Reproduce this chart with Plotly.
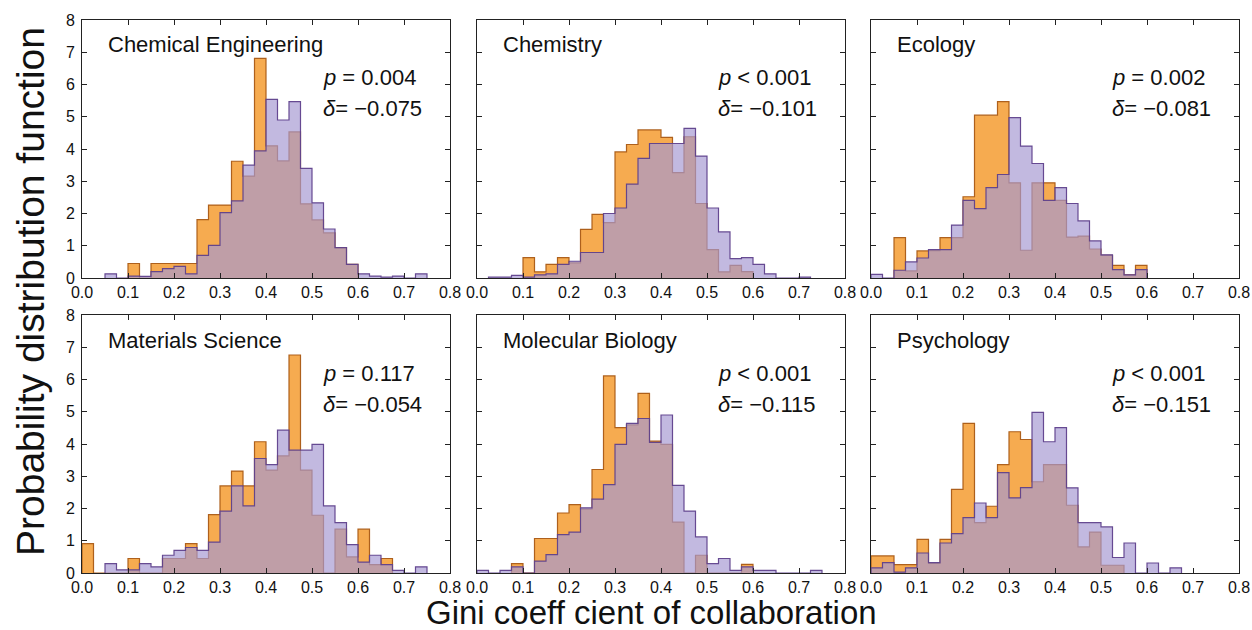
import numpy as np
import plotly.graph_objects as go

# Histogram bins: 32 bins of width 0.025 over [0, 0.8]
bin_edges = np.linspace(0.0, 0.8, 33)

fields = ["Chemical Engineering", "Chemistry", "Ecology",
          "Materials Science", "Molecular Biology", "Psychology"]
p_text = ["<i>p</i> = 0.004", "<i>p</i> < 0.001", "<i>p</i> = 0.002",
          "<i>p</i> = 0.117", "<i>p</i> < 0.001", "<i>p</i> < 0.001"]
delta_text = ["<i>δ</i>= −0.075", "<i>δ</i>= −0.101", "<i>δ</i>= −0.081",
              "<i>δ</i>= −0.054", "<i>δ</i>= −0.115", "<i>δ</i>= −0.151"]

# Probability density per bin, group A (orange)
chem_eng_a = [0, 0, 0, 0, 0.45, 0, 0.45, 0.45, 0.45, 0.45, 1.81, 2.26, 2.26, 3.62, 3.16, 6.81,
              4.10, 3.63, 4.53, 2.30, 1.80, 1.40, 0.94, 0.42, 0, 0, 0, 0, 0, 0, 0, 0]
chemistry_a = [0, 0, 0, 0, 0.63, 0.19, 0.42, 0.63, 0.47, 1.51, 1.97, 1.72, 3.91, 4.14, 4.59, 4.59,
               4.36, 3.27, 4.38, 2.31, 0.88, 0.19, 0.39, 0.20, 0, 0, 0, 0, 0, 0, 0, 0]
ecology_a = [0, 0, 1.25, 0.22, 0.84, 0.85, 1.25, 1.25, 2.52, 5.05, 5.05, 5.47, 2.95, 0.86, 2.95, 2.95,
             2.41, 1.27, 1.30, 0.90, 0.70, 0.39, 0.10, 0.39, 0, 0, 0, 0, 0, 0, 0, 0]
materials_a = [0.91, 0, 0, 0, 0.45, 0, 0, 0.45, 0.45, 0.91, 0.45, 1.81, 2.70, 3.16, 2.70, 4.07,
               3.19, 3.63, 6.76, 3.19, 1.79, 0, 1.36, 0.50, 1.36, 0.26, 0.45, 0, 0, 0, 0, 0]
mol_bio_a = [0, 0, 0, 0.29, 0, 1.07, 1.07, 1.86, 2.12, 1.98, 3.21, 6.11, 4.51, 4.59, 5.57, 4.09,
             3.99, 1.58, 0, 0.55, 0, 0, 0, 0.27, 0, 0, 0, 0, 0, 0, 0, 0]
psychology_a = [0.53, 0.53, 0.26, 0.26, 1.04, 0.30, 1.04, 2.59, 4.64, 1.56, 2.07, 3.36, 4.38, 4.14, 2.83, 3.36,
                3.36, 2.10, 0.81, 1.27, 0.24, 0.24, 0, 0, 0, 0, 0, 0, 0, 0, 0, 0]

# Probability density per bin, group B (purple)
chem_eng_b = [0, 0, 0.13, 0, 0.06, 0.05, 0.20, 0.29, 0.36, 0.13, 0.70, 1.01, 2.03, 2.39, 3.50, 3.94,
              5.54, 4.90, 5.47, 3.40, 2.33, 1.52, 0.94, 0.42, 0.13, 0.06, 0.03, 0.06, 0, 0.13, 0, 0]
chemistry_b = [0, 0.03, 0.03, 0.08, 0.03, 0.10, 0.13, 0.42, 0.52, 0.79, 0.79, 2.00, 2.17, 2.91, 3.71, 4.17,
               4.17, 4.17, 4.64, 3.78, 2.17, 1.43, 0.60, 0.63, 0.42, 0.13, 0, 0, 0.03, 0, 0, 0]
ecology_b = [0.11, 0, 0.24, 0.50, 0.62, 0.88, 0.88, 1.64, 2.41, 2.15, 2.80, 3.21, 4.97, 4.09, 3.55, 2.41,
             2.80, 2.31, 1.77, 1.15, 0.72, 0.26, 0.10, 0.26, 0, 0, 0, 0, 0, 0, 0, 0]
materials_b = [0, 0, 0.29, 0.10, 0.10, 0.29, 0.19, 0.55, 0.70, 0.79, 0.70, 0.96, 1.92, 2.70, 2.08, 3.55,
               3.36, 4.43, 3.81, 3.81, 3.99, 2.08, 1.56, 0.88, 0.34, 0.55, 0.26, 0.08, 0, 0.19, 0, 0]
mol_bio_b = [0.08, 0, 0.08, 0.19, 0, 0.37, 0.57, 1.19, 1.27, 2.02, 2.29, 2.74, 3.99, 4.64, 4.79, 4.05,
             4.90, 2.72, 1.92, 1.12, 0.29, 0.45, 0.08, 0.19, 0.08, 0.08, 0, 0, 0, 0.08, 0, 0]
psychology_b = [0.16, 0.32, 0.03, 0.16, 0.62, 0.32, 0.93, 1.22, 1.72, 2.17, 1.72, 3.11, 2.33, 2.65, 4.98, 4.07,
                4.51, 2.64, 1.56, 1.56, 1.43, 0.48, 0.93, 0, 0.31, 0, 0.16, 0, 0, 0, 0, 0]

group_a = [chem_eng_a, chemistry_a, ecology_a, materials_a, mol_bio_a, psychology_a]
group_b = [chem_eng_b, chemistry_b, ecology_b, materials_b, mol_bio_b, psychology_b]

x_ticks = [0.0, 0.1, 0.2, 0.3, 0.4, 0.5, 0.6, 0.7, 0.8]
x_ticktext = ["0.0", "0.1", "0.2", "0.3", "0.4", "0.5", "0.6", "0.7", "0.8"]
y_ticks = [0, 1, 2, 3, 4, 5, 6, 7, 8]

FONT = "Liberation Sans, Arial, Helvetica, sans-serif"
W, H = 1252, 630

# panel plot areas in pixels
col_px = [(82, 450), (477, 845), (871, 1239)]
row_px = [(20, 278), (315, 573)]

style_a = dict(fill="rgba(243,138,12,0.72)", line="rgba(170,90,20,0.95)")
style_b = dict(fill="rgba(165,152,210,0.68)", line="rgba(95,65,140,0.95)")


def step_outline(values):
    """Closed step outline (stepfilled histogram) spanning the non-empty bins."""
    vals = np.asarray(values, dtype=float)
    nz = np.nonzero(vals)[0]
    lo, hi = nz[0], nz[-1]
    edges = bin_edges[lo:hi + 2]
    v = vals[lo:hi + 1]
    xs = np.concatenate([[edges[0]], edges, [edges[-1]]])
    ys = np.concatenate([[0.0], v, [v[-1], 0.0]])
    return xs, ys


fig = go.Figure()
layout_axes = {}
annotations = []

for k in range(6):
    r, c = divmod(k, 3)
    n = k + 1
    xa = "x" if n == 1 else f"x{n}"
    ya = "y" if n == 1 else f"y{n}"
    xkey = "xaxis" if n == 1 else f"xaxis{n}"
    ykey = "yaxis" if n == 1 else f"yaxis{n}"

    for vals, st in ((group_a[k], style_a), (group_b[k], style_b)):
        xs, ys = step_outline(vals)
        fig.add_trace(go.Scatter(
            x=xs, y=ys, mode="lines", line=dict(shape="hv", color=st["line"], width=1.2),
            fill="tozeroy", fillcolor=st["fill"], xaxis=xa, yaxis=ya,
            showlegend=False, hoverinfo="skip"))

    x0, x1 = col_px[c]
    y0, y1 = row_px[r]
    common = dict(showline=True, mirror="ticks", linecolor="#222", linewidth=1,
                  ticks="inside", ticklen=5, tickwidth=1, tickcolor="#222",
                  showgrid=False, zeroline=False, automargin=False,
                  tickfont=dict(family=FONT, size=16, color="#111"))
    layout_axes[xkey] = dict(common, domain=[x0 / W, x1 / W], range=[0, 0.8],
                             tickvals=x_ticks, ticktext=x_ticktext, anchor=ya)
    layout_axes[ykey] = dict(common, domain=[1 - y1 / H, 1 - y0 / H], range=[0, 8],
                             tickvals=y_ticks, showticklabels=(c == 0), anchor=xa,
                             ticklabelstandoff=3)

    dx = f"{xa} domain"
    dy = f"{ya} domain"
    annotations.append(dict(text=fields[k], xref=dx, yref=dy, x=24 / 368, y=1 - 25 / 258,
                            xanchor="left", yanchor="middle", showarrow=False,
                            font=dict(family=FONT, size=22, color="#111")))
    annotations.append(dict(text=p_text[k], xref=dx, yref=dy, x=239 / 368, y=1 - 58 / 258,
                            xanchor="left", yanchor="middle", showarrow=False,
                            font=dict(family=FONT, size=22, color="#111")))
    annotations.append(dict(text=delta_text[k], xref=dx, yref=dy, x=239 / 368, y=1 - 89 / 258,
                            xanchor="left", yanchor="middle", showarrow=False,
                            font=dict(family=FONT, size=22, color="#111")))

annotations.append(dict(text="Probability distribution function", xref="paper", yref="paper",
                        x=30 / W, y=1 - 292 / H, textangle=-90, xanchor="center", yanchor="middle",
                        showarrow=False, font=dict(family=FONT, size=39, color="#111")))
annotations.append(dict(text="Gini coeff cient of collaboration", xref="paper", yref="paper",
                        x=651 / W, y=1 - 612 / H, xanchor="center", yanchor="middle",
                        showarrow=False, borderpad=0, font=dict(family=FONT, size=33, color="#111")))

fig.update_layout(width=W, height=H, margin=dict(l=0, r=0, t=0, b=0),
                  paper_bgcolor="white", plot_bgcolor="white",
                  annotations=annotations, **layout_axes)

fig.write_html("out.html")
